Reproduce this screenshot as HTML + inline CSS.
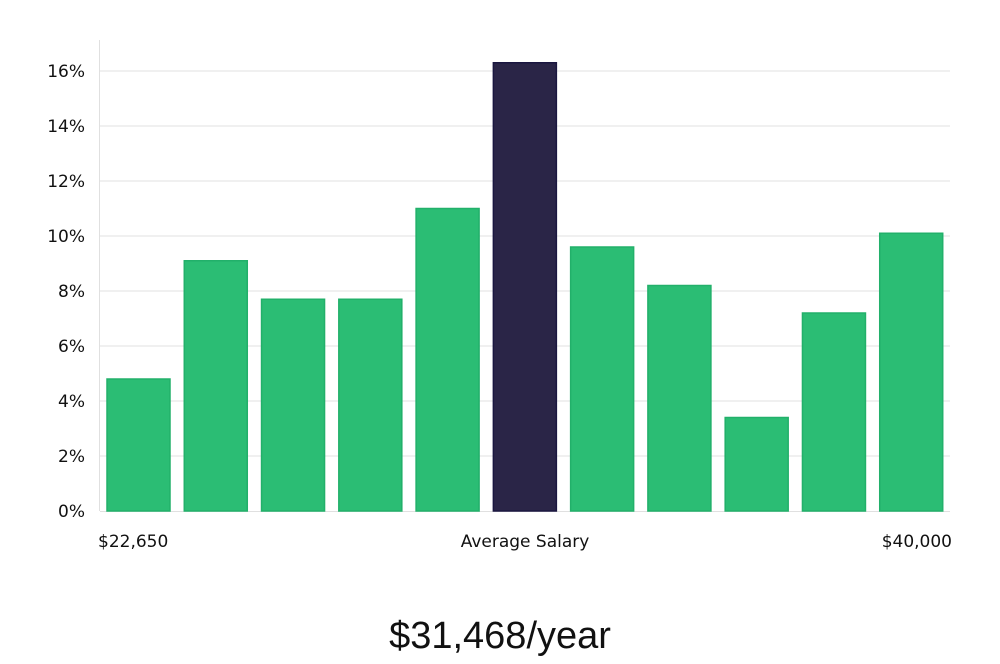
<!DOCTYPE html>
<html><head><meta charset="utf-8"><style>
body{margin:0;background:#fff;width:1000px;height:660px;overflow:hidden;font-family:"DejaVu Sans","Liberation Sans",sans-serif;}
</style></head><body>
<svg id="chart" width="1000" height="660" xmlns="http://www.w3.org/2000/svg"></svg>
<script>
const categories=["b1","b2","b3","b4","b5","b6","b7","b8","b9","b10","b11"];
const values=[4.8,9.1,7.7,7.7,11.0,16.3,9.6,8.2,3.4,7.2,10.1];
const highlight=[false,false,false,false,false,true,false,false,false,false,false];
const yTicks=[0,2,4,6,8,10,12,14,16];
const yTickLabels=["0%","2%","4%","6%","8%","10%","12%","14%","16%"];
const xLabels=["$22,650","Average Salary","$40,000"];
const NS="http://www.w3.org/2000/svg";
const svg=document.getElementById('chart');
const x0=100,x1=950,y0=511,yTop=71;
const yScale=v=>y0-(v/16)*(y0-yTop);
const band=(x1-x0)/categories.length;
const xScale=i=>x0+i*band;
function mk(t,a){const e=document.createElementNS(NS,t);for(const k in a)e.setAttribute(k,a[k]);svg.appendChild(e);return e;}
yTicks.forEach((t,i)=>{
  if(t>0){const g=mk('line',{x1:x0,x2:x1,y1:yScale(t),y2:yScale(t),stroke:'#e0e0e0','stroke-width':1});
  
  }
  const l=mk('text',{x:85,y:yScale(t)+6,'text-anchor':'end','font-size':17,fill:'#111'});
  l.textContent=yTickLabels[i];
  
  
});
const ax=mk('line',{x1:99.5,x2:99.5,y1:40,y2:y0,stroke:'#e0e0e0','stroke-width':1});


const bx=mk('line',{x1:x0,x2:x1,y1:y0+0.5,y2:y0+0.5,stroke:'#e0e0e0','stroke-width':1});


values.forEach((v,i)=>{
  const hi=highlight[i];
  const r=mk('rect',{x:xScale(i)+7,y:yScale(v),width:63,height:y0-yScale(v),fill:hi?'#2a2547':'#2bbd74',stroke:hi?'#1a1640':'#22b06a','stroke-width':1.5});
  
  
});
const xl=[[98,'start'],[525,'middle'],[952,'end']];
xLabels.forEach((s,i)=>{
  const t=mk('text',{x:xl[i][0],y:547,'text-anchor':xl[i][1],'font-size':17,fill:'#111'});
  t.textContent=s;
  
  
});
const ti=mk('text',{x:500,y:648,'text-anchor':'middle','font-size':38,fill:'#111','font-family':'"Liberation Sans",sans-serif','font-weight':'300'});
ti.textContent='$31,468/year';


</script>
</body></html>
